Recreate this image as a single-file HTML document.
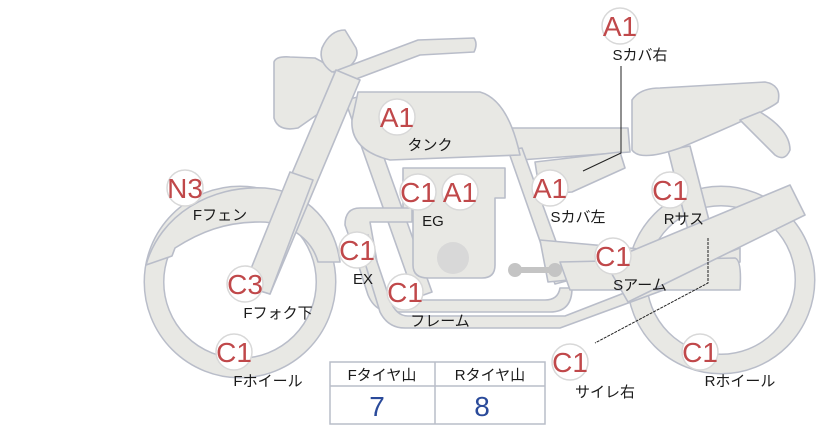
<!DOCTYPE html>
<html><head><meta charset="utf-8"><style>
html,body{margin:0;padding:0;background:#fff}
svg{display:block}
.s{fill:#e8e8e4;stroke:#b9bdc9;stroke-width:1.6;stroke-linejoin:round}
.b circle{fill:#fff;stroke:#d8d8d8;stroke-width:1.5}
.bt{font-family:"Liberation Sans",sans-serif;font-size:28px;fill:#c0484a;text-anchor:middle}
.lb{font-family:"Liberation Sans","Noto Sans CJK JP",sans-serif;font-size:15px;fill:#1a1a1a;text-anchor:middle}
</style></head><body>
<svg width="822" height="425" viewBox="0 0 822 425">
<circle cx="240" cy="282" r="86" fill="none" stroke="#b9bdc9" stroke-width="21"/>
<circle cx="240" cy="282" r="86" fill="none" stroke="#e8e8e4" stroke-width="18"/>
<circle cx="721" cy="280" r="84" fill="none" stroke="#b9bdc9" stroke-width="21"/>
<circle cx="721" cy="280" r="84" fill="none" stroke="#e8e8e4" stroke-width="18"/>
<path class="s" d="M146,265 C160,215 210,185 265,188 C310,192 335,225 340,262 L318,262 C312,240 290,222 260,222 C225,222 200,232 175,248 L172,256 Z"/>
<path class="s" d="M512,128 L628,128 L630,152 L520,160 Z"/>
<path class="s" d="M535,162 L620,152 L625,168 L572,192 L540,194 Z"/>
<path class="s" d="M668,150 L690,146 L712,232 L690,238 Z"/>
<path class="s" d="M345,100 L362,96 L432,292 L415,298 Z"/>
<path class="s" d="M508,150 L522,148 L570,280 L555,284 Z"/>
<path class="s" d="M540,240 L650,250 L650,272 L548,282 Z"/>
<path class="s" d="M403,168 L505,168 L505,198 L495,198 L495,265 Q495,278 482,278 L428,278 Q413,278 413,265 L413,210 L403,210 Z"/>
<circle cx="453" cy="258" r="16" fill="#d8d8d8"/>
<path d="M515,270 L555,270" stroke="#c4c4c4" stroke-width="6"/>
<circle cx="515" cy="270" r="7" fill="#c4c4c4"/><circle cx="555" cy="270" r="7" fill="#c4c4c4"/>
<path class="s" d="M345,225 Q345,208 360,208 L412,208 L412,222 L370,222 L382,290 Q386,300 400,300 L545,300 Q558,300 560,288 L572,288 Q572,312 550,312 L392,312 Q375,312 368,295 L352,245 Z"/>
<path class="s" d="M358,240 L380,312 Q388,328 405,328 L560,328 L740,262 L740,248 L565,316 L408,316 Q396,316 390,300 L368,235 Z"/>
<path class="s" d="M560,262 L735,258 Q742,260 740,290 L570,290 Z"/>
<path class="s" d="M605,262 L790,185 L805,215 L628,302 Z"/>
<path class="s" d="M632,100 Q640,88 660,88 L765,82 Q782,85 778,102 Q770,110 680,148 Q640,162 632,150 Z"/>
<path class="s" d="M740,120 L760,112 Q790,130 790,150 Q785,162 775,155 Z"/>
<path class="s" d="M358,92 L480,92 Q508,100 520,155 L390,160 Q350,150 352,120 Z"/>
<path class="s" d="M274,62 Q276,56 290,57 L315,58 Q340,70 340,90 Q336,104 318,114 L298,128 Q278,132 274,118 Z"/>
<path class="s" d="M322,48 Q330,30 345,30 L356,48 Q360,58 348,68 L332,72 Q318,62 322,48 Z"/>
<path class="s" d="M338,70 L418,40 L474,38 Q478,44 474,52 L420,55 L340,85 Z"/>
<path class="s" d="M336,70 L360,80 L270,294 L244,286 Z"/>
<path class="s" d="M290,172 L313,180 L270,294 L244,286 Z"/>
<path d="M621,66 L621,153 L583,171" fill="none" stroke="#222" stroke-width="1"/>
<path d="M708,238 L708,283 L595,343" fill="none" stroke="#222" stroke-width="1" stroke-dasharray="3,1"/>
<g class="b">
<circle cx="620" cy="26" r="18"/><circle cx="397" cy="117" r="18"/><circle cx="185" cy="188" r="18"/>
<circle cx="418" cy="192" r="18"/><circle cx="460" cy="192" r="18"/><circle cx="550" cy="188" r="18"/>
<circle cx="670" cy="190" r="18"/><circle cx="357" cy="250" r="18"/><circle cx="613" cy="256" r="18"/>
<circle cx="245" cy="284" r="18"/><circle cx="405" cy="292" r="18"/><circle cx="234" cy="352" r="18"/>
<circle cx="570" cy="362" r="18"/><circle cx="700" cy="352" r="18"/>
</g>
<g class="bt">
<text x="620" y="36">A1</text><text x="397" y="127">A1</text><text x="185" y="198">N3</text>
<text x="418" y="202">C1</text><text x="460" y="202">A1</text><text x="550" y="198">A1</text>
<text x="670" y="200">C1</text><text x="357" y="260">C1</text><text x="613" y="266">C1</text>
<text x="245" y="294">C3</text><text x="405" y="302">C1</text><text x="234" y="362">C1</text>
<text x="570" y="372">C1</text><text x="700" y="362">C1</text>
</g>
<g class="lb">
<text x="640" y="60">Sカバ右</text><text x="430" y="150">タンク</text><text x="220" y="220">Fフェン</text>
<text x="433" y="226">EG</text><text x="578" y="222">Sカバ左</text><text x="684" y="224">Rサス</text>
<text x="363" y="284">EX</text><text x="640" y="290">Sアーム</text><text x="278" y="318">Fフォク下</text>
<text x="440" y="326">フレーム</text><text x="268" y="386">Fホイール</text><text x="605" y="397">サイレ右</text>
<text x="740" y="386">Rホイール</text>
</g>
<rect x="330" y="362" width="215" height="62" fill="#fff" stroke="#b9bdc9" stroke-width="1.5"/>
<line x1="330" y1="386" x2="545" y2="386" stroke="#b9bdc9" stroke-width="1.5"/>
<line x1="435" y1="362" x2="435" y2="424" stroke="#b9bdc9" stroke-width="1.5"/>
<text class="lb" x="382" y="380">Fタイヤ山</text><text class="lb" x="490" y="380">Rタイヤ山</text>
<text x="377" y="416" font-family="Liberation Sans,sans-serif" font-size="28" fill="#2a4a9a" text-anchor="middle">7</text>
<text x="482" y="416" font-family="Liberation Sans,sans-serif" font-size="28" fill="#2a4a9a" text-anchor="middle">8</text>
</svg>
</body></html>
